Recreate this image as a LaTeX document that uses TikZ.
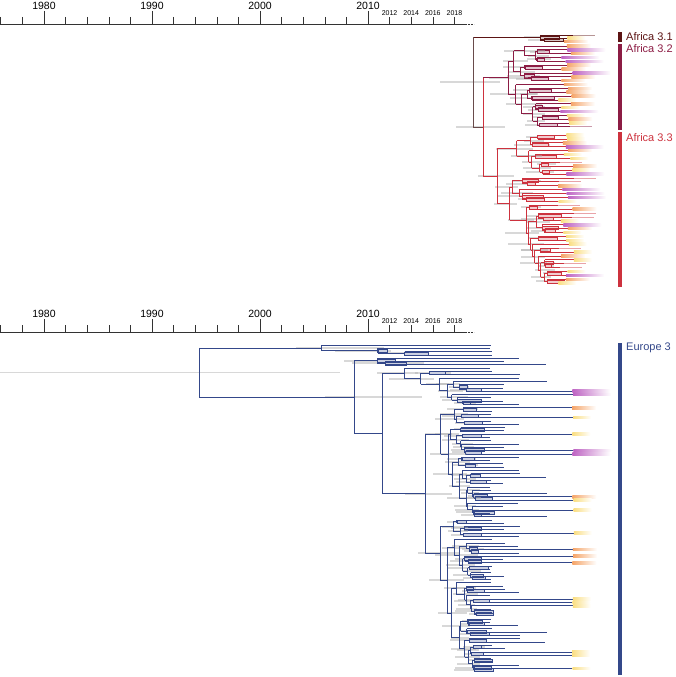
\documentclass[tikz,border=0pt]{standalone}
\usepackage{fontspec}
\setmainfont{Liberation Sans}
\usetikzlibrary{positioning}
\definecolor{afrroot}{RGB}{105,75,75}
\definecolor{afrone}{RGB}{92,20,20}
\definecolor{afrtwo}{RGB}{140,28,68}
\definecolor{afrthree}{RGB}{205,50,62}
\definecolor{eurblue}{RGB}{52,72,138}
\definecolor{tailyellow}{RGB}{250,222,130}
\definecolor{tailorange}{RGB}{245,165,105}
\definecolor{tailpurple}{RGB}{190,100,195}
\colorlet{treecol}{eurblue}
\pgfdeclarelayer{bg}
\pgfsetlayers{bg,main}

% tip end of a branch
\newcommand\picktip{%
  \ifnum\tipmode=1
    \pgfmathsetmacro\tx{558+16*rnd}%
  \else
    \pgfmathrandominteger\tc{1}{13}%
    \edef\tx{\ifcase\tc\or 490\or 490\or 490\or 490\or 490\or 503\or 503\or 503\or 518\or 518\or 545\or 572\or 572\fi}%
    \pgfmathsetmacro\tx{\tx+2*rnd}%
  \fi}
\newcommand\tailY{\shade[left color=tailyellow,right color=white] (\tx,\ty-1.3) rectangle (\tx+18,\ty+1.3);}
\newcommand\tailO{\shade[left color=tailorange,right color=white] (\tx,\ty-1.3) rectangle (\tx+24,\ty+1.3);}
\newcommand\tailP{\shade[left color=tailpurple,right color=white] (\tx,\ty-1.3) rectangle (\tx+38,\ty+1.3);}
\newcommand\tailN{\draw[treecol!45, line width=.8pt] (\tx,\ty) -- (\tx+22,\ty);}
\newcommand\picktail{%
  \ifnum\tipmode=1
    \pgfmathrandominteger\tailkind{1}{6}%
  \else
    \ifdim\tx pt>560pt \pgfmathrandominteger\tailkind{1}{4}\else\def\tailkind{0}\fi
  \fi
  \let\dotail\relax
  \ifcase\tailkind\or\let\dotail\tailY\or\let\dotail\tailY\or\let\dotail\tailO
  \or\let\dotail\tailP\or\let\dotail\tailP\or\let\dotail\tailN\fi
  \dotail}

% clade: parent x, node x (<0 = free), first tip, number of tips
\newcommand\phylo[4]{%
  \begingroup
  \ifnum#4=1
    \pgfmathsetmacro\ty{\ystart+#3*\dy}%
    \picktip
    \draw[branch] (#1,\ty) -- (\tx,\ty);
    \picktail
    \xdef\retY{\ty}%
  \else
    \ifdim#2pt<0pt
      \pgfmathsetmacro\nx{#1+(\xlim-#1)*(0.06+0.3*rnd)}%
    \else
      \def\nx{#2}%
    \fi
    \pgfmathtruncatemacro\half{max(1,floor(#4/2))}%
    \pgfmathrandominteger\k{1}{\half}%
    \pgfmathtruncatemacro\rest{#4-\k}%
    \pgfmathtruncatemacro\second{#3+\k}%
    \edef\next{\noexpand\phylo{\nx}{-1}{#3}{\k}}\next
    \let\ya\retY
    \edef\next{\noexpand\phylo{\nx}{-1}{\second}{\rest}}\next
    \let\yb\retY
    \pgfmathsetmacro\ny{(\ya+\yb)/2}%
    \pgfmathsetmacro\hl{4+(\xlim-\nx)*0.3*rnd+16*rnd}%
    \pgfmathsetmacro\hr{4+(\xlim-\nx)*0.4*rnd+8*rnd}%
    \pgfmathsetmacro\bx{6+18*rnd}%
    \begin{pgfonlayer}{bg}
      \fill[hpd] (\nx-\hl,\ny-1) rectangle (\nx+\hr,\ny+1);
      \ifnum#4<4 \draw[nodebox] (\nx,\ny-1.5) rectangle (\nx+\bx,\ny+1.5);\fi
    \end{pgfonlayer}
    \draw[branch] (\nx,\ya) -- (\nx,\yb);
    \draw[branch] (#1,\ny) -- (\nx,\ny);
    \xdef\retY{\ny}%
  \fi
  \endgroup}

\begin{document}
\begin{tikzpicture}[x=1pt, y=-1pt,
    branch/.style={draw=treecol, line width=.75pt},
    hpd/.style={fill=gray!60, opacity=.5},
    nodebox/.style={draw=treecol, fill=treecol!25, line width=.3pt},
    tick/.style={draw=black!80, line width=.6pt},
    yearlab/.style={font=\fontsize{10.5}{11}\selectfont, inner sep=0pt},
    smalllab/.style={font=\fontsize{7}{8}\selectfont, inner sep=0pt},
    cladelab/.style={font=\fontsize{11}{12}\selectfont, anchor=west, inner sep=0pt}
  ]
  \useasboundingbox (0,0) rectangle (675,677);
  \pgfmathsetseed{11}

  % time axes
  \foreach \base in {24,332}{
    \draw[tick] (0,\base) -- (466,\base);
    \draw[tick, densely dotted, line width=.4pt] (466,\base) -- (474,\base);
    \foreach \yr in {1976,1978,...,2018}{
      \pgfmathsetmacro\xx{44+(\yr-1980)*10.8}
      \pgfmathtruncatemacro\dec{mod(\yr,10)==0}
      \ifnum\dec=1
        \draw[tick] (\xx,\base-13) -- (\xx,\base);
        \node[yearlab] (yr\yr-\base) at (\xx,\base-18) {\yr};
      \else
        \draw[tick] (\xx,\base-7) -- (\xx,\base);
      \fi
      \ifnum\yr>2011
        \node[smalllab] (yr\yr-\base) at (\xx,\base-11) {\yr};
      \fi
    }
  }

  % Africa
  \def\tipmode{1}\def\xlim{556}
  \colorlet{treecol}{afrone}
  \def\ystart{35}\def\dy{3.3}
  \phylo{473}{540}{0}{3}\let\yone\retY
  \colorlet{treecol}{afrtwo}
  \def\ystart{46}\def\dy{3.85}
  \phylo{483}{508}{0}{22}\let\ytwo\retY
  \colorlet{treecol}{afrthree}
  \def\ystart{135}\def\dy{3.9}
  \phylo{483}{497}{0}{39}\let\ythree\retY
  \pgfmathsetmacro\ymid{(\ytwo+\ythree)/2}
  \pgfmathsetmacro\yroot{(\yone+\ymid)/2}
  \begin{pgfonlayer}{bg}
    \fill[hpd] (456,\ymid-1) rectangle (505,\ymid+1);
    \fill[hpd] (440,\yroot-1) rectangle (500,\yroot+1);
  \end{pgfonlayer}
  \draw[afrthree, line width=.75pt] (483,\ytwo) -- (483,\ythree);
  \draw[afrroot, line width=.75pt] (473,\ymid) -- (483,\ymid);
  \draw[afrroot, line width=.75pt] (473,\yone) -- (473,\ymid);

  \fill[afrone] (618,32) rectangle (622,42);
  \fill[afrtwo] (618,44) rectangle (622,130);
  \fill[afrthree] (618,132) rectangle (622,287);
  \node[cladelab, text=afrone] (lab31) at (626,37) {Africa 3.1};
  \node[cladelab, text=afrtwo] (lab32) at (626,49) {Africa 3.2};
  \node[cladelab, text=afrthree] (lab33) at (626,138) {Africa 3.3};

  % Europe
  \def\tipmode{2}\def\xlim{480}
  \colorlet{treecol}{eurblue}
  \def\ystart{345}\def\dy{3.3}
  \phylo{199}{321}{0}{4}\let\eA\retY
  \phylo{354}{377}{4}{3}\let\eC\retY
  \phylo{382}{-1}{7}{12}\let\eD\retY
  \phylo{382}{425}{19}{81}\let\eE\retY
  \pgfmathsetmacro\eDE{(\eD+\eE)/2}
  \pgfmathsetmacro\eCD{(\eC+\eDE)/2}
  \pgfmathsetmacro\eroot{(\eA+\eCD)/2}
  \begin{pgfonlayer}{bg}
    \fill[hpd] (0,\eroot-.7) rectangle (340,\eroot+.7);
    \fill[hpd] (325,\eCD-.7) rectangle (422,\eCD+.7);
  \end{pgfonlayer}
  \draw[branch] (382,\eD) -- (382,\eE);
  \draw[branch] (354,\eDE) -- (382,\eDE);
  \draw[branch] (354,\eC) -- (354,\eDE);
  \draw[branch] (199,\eCD) -- (354,\eCD);
  \draw[branch] (199,\eA) -- (199,\eCD);

  \fill[eurblue] (618,343) rectangle (622,675);
  \node[cladelab, text=eurblue] (labeu) at (626,348) {Europe 3};
\end{tikzpicture}
\end{document}
